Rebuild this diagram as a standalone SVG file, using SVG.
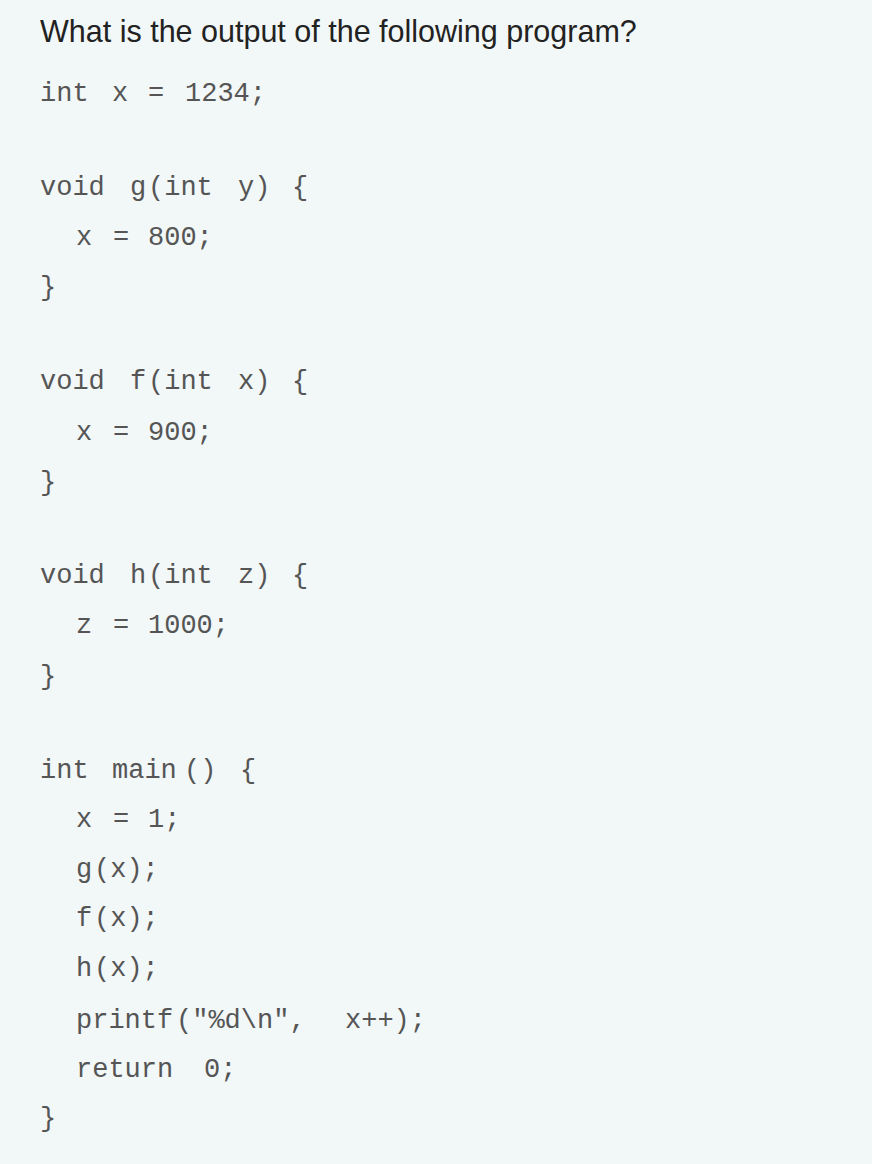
<svg xmlns="http://www.w3.org/2000/svg" width="872" height="1164" viewBox="0 0 872 1164">
<style>
.t{font-family:"Liberation Sans",Arial,sans-serif;font-size:30.5px;fill:#222}
.c{font-family:"Liberation Mono","DejaVu Sans Mono",monospace;font-size:27px;fill:#555}
</style>
<rect width="872" height="1164" fill="#f2f7f7"/>
<text class="t" x="40" y="42">What is the output of the following program?</text>
<g class="c">
<text y="101"><tspan x="40">int</tspan><tspan x="112">x</tspan><tspan x="148">=</tspan><tspan x="185">1234;</tspan></text>
<text y="195"><tspan x="40">void</tspan><tspan x="130">g</tspan><tspan x="148">(int</tspan><tspan x="238">y)</tspan><tspan x="292">{</tspan></text>
<text y="245"><tspan x="76">x</tspan><tspan x="113">=</tspan><tspan x="148">800;</tspan></text>
<text x="40" y="295">}</text>
<text y="389"><tspan x="40">void</tspan><tspan x="130">f</tspan><tspan x="148">(int</tspan><tspan x="238">x)</tspan><tspan x="292">{</tspan></text>
<text y="440"><tspan x="76">x</tspan><tspan x="113">=</tspan><tspan x="148">900;</tspan></text>
<text x="40" y="490">}</text>
<text y="583"><tspan x="40">void</tspan><tspan x="130">h</tspan><tspan x="148">(int</tspan><tspan x="238">z)</tspan><tspan x="292">{</tspan></text>
<text y="633"><tspan x="76">z</tspan><tspan x="113">=</tspan><tspan x="148">1000;</tspan></text>
<text x="40" y="684">}</text>
<text y="778"><tspan x="40">int</tspan><tspan x="112">main</tspan><tspan x="184">()</tspan><tspan x="240">{</tspan></text>
<text y="827"><tspan x="76">x</tspan><tspan x="113">=</tspan><tspan x="148">1;</tspan></text>
<text y="877"><tspan x="76">g</tspan><tspan x="94">(x);</tspan></text>
<text y="926"><tspan x="76">f</tspan><tspan x="94">(x);</tspan></text>
<text y="976"><tspan x="76">h</tspan><tspan x="94">(x);</tspan></text>
<text y="1028"><tspan x="76">printf</tspan><tspan x="176">("%d\n",</tspan><tspan x="345">x++);</tspan></text>
<text y="1077"><tspan x="76">return</tspan><tspan x="204">0;</tspan></text>
<text x="40" y="1126">}</text>
</g>
</svg>
